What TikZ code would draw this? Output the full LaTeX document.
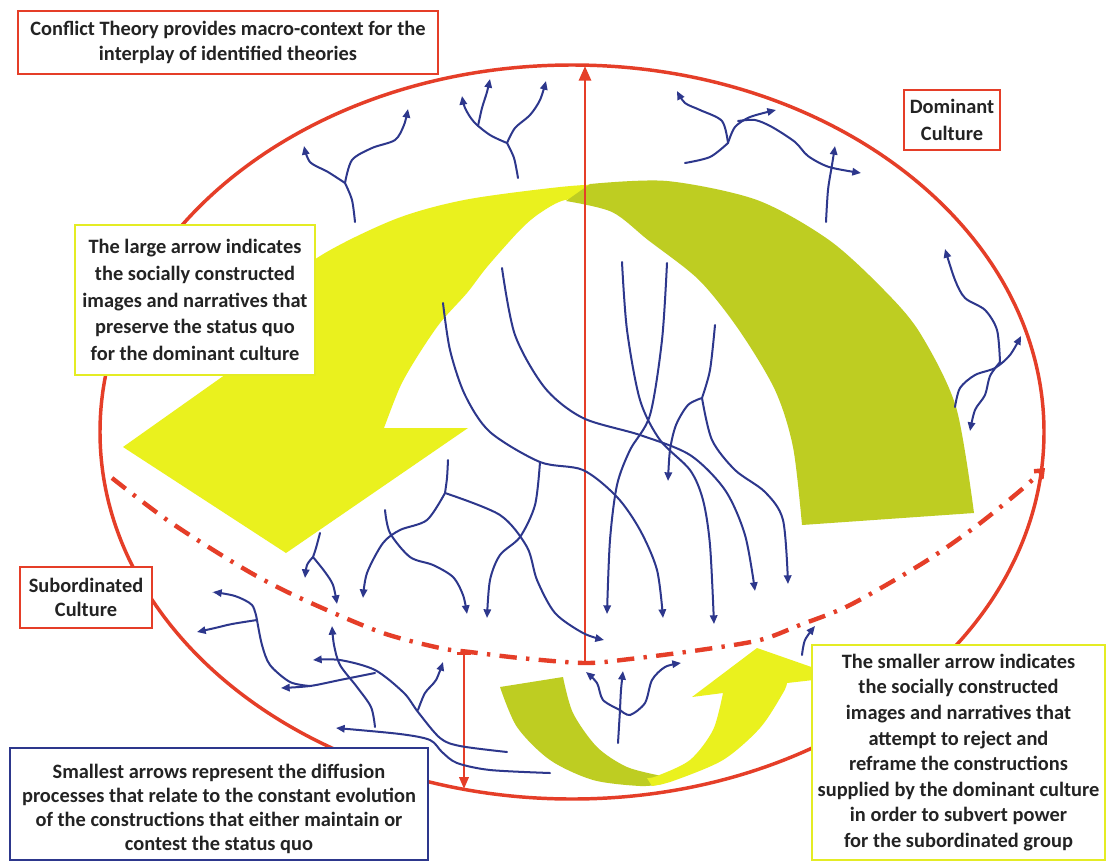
\documentclass[tikz,border=0pt]{standalone}
\usepackage{fontspec}
\setmainfont{Carlito}
\usetikzlibrary{arrows.meta}
\definecolor{redc}{RGB}{229,62,40}
\definecolor{bluc}{RGB}{45,55,140}
\definecolor{yelc}{RGB}{234,241,30}
\definecolor{olic}{RGB}{190,205,34}
\definecolor{yelb}{RGB}{228,236,36}
\definecolor{txtc}{RGB}{35,35,35}
\begin{document}
\begin{tikzpicture}[x=0.75pt,y=-0.75pt,
  blu/.style={draw=bluc, line width=1.5pt, line cap=round},
  bla/.style={blu, -{Triangle[length=6.5pt,width=5.5pt]}},
  tbox/.style={draw, fill=white, line width=1.6pt, align=center, inner sep=0pt, text=txtc},
  redline/.style={draw=redc, line width=2.2pt}
]
\useasboundingbox (0,0) rectangle (1107,861);
\fill[white] (0,0) rectangle (1107,861);

% ellipse
\draw[redc, line width=2.6pt] (572,432) ellipse [x radius=354pt, y radius=275.25pt];

% big arrow (yellow part)
\fill[yelc] (384,428) -- (468,428) -- (286,553) -- (123,447)
  -- plot[smooth] coordinates {(229,372) (262,312) (314,260) (393,220) (464,200) (560,187) (620,183)}
  -- plot[smooth] coordinates {(600,200) (565,200) (540,213) (520,230) (487,267) (467,293) (440,323) (417,357) (400,387) (384,428)}
  -- cycle;
% big arrow (olive part)
\fill[olic] plot[smooth] coordinates {(590,184) (667,181) (757,200) (829,240) (884,290) (920,333) (956,407) (974,513)}
  -- (802,525)
  -- plot[smooth] coordinates {(802,525) (793,447) (775,390) (739,330) (699,280) (648,240) (612,212) (566,201)}
  -- cycle;

% small arrow
\fill[olic] plot[smooth] coordinates {(500,687) (517,727) (550,760) (593,780) (640,786) (662,784)}
  -- plot[smooth] coordinates {(662,776) (627,767) (597,747) (573,713) (563,677)} -- cycle;
\fill[yelc] plot[smooth] coordinates {(652,786) (673,781) (723,760) (760,728) (783,693) (787,683)}
  -- (840,677) -- (757,648) -- (692,697) -- (723,693)
  -- plot[smooth] coordinates {(723,693) (713,730) (690,760) (657,776) (647,778)} -- cycle;

% dash-dot boundary
\draw[redc, line width=3.3pt, dash pattern=on 13pt off 7pt on 2.5pt off 7pt, -{Straight Barb[length=5pt,width=8pt]}]
  plot[smooth] coordinates {(112,478) (170,522) (246,570) (300,598) (380,632) (440,648) (470,652) (520,658) (585,663) (630,659) (700,650) (760,640) (800,625) (850,605) (923,563) (975,527) (1021,490) (1045,468)};

% red arrows
\coordinate (vb) at (585,663);
\coordinate (vt) at (585,66);
\draw[redline, -{Triangle[length=11pt,width=9pt]}] (vb) -- (vt);
\coordinate (db) at (464,652);
\coordinate (de) at (464,789);
\draw[redline, line width=2pt, {Bar[width=10pt]}-{Triangle[length=9pt,width=7pt]}] (db) -- (de);

% ---- blue diffusion arrows ----
% top-left group
\draw[blu] plot[smooth] coordinates {(355,222) (352,200) (345,183)};
\draw[bla] plot[smooth] coordinates {(345,183) (328,172) (310,162) (304,146)};
\draw[bla] plot[smooth] coordinates {(345,183) (352,160) (372,148) (395,140) (404,125) (408,109)};
\draw[blu] plot[smooth] coordinates {(518,178) (514,158) (507,143)};
\draw[bla] plot[smooth] coordinates {(507,143) (490,135) (474,122) (465,108) (462,96)};
\draw[bla] plot[smooth] coordinates {(478,126) (482,108) (487,92) (490,79)};
\draw[bla] plot[smooth] coordinates {(507,143) (515,128) (530,115) (540,100) (546,81)};
% top-right group
\draw[blu] plot[smooth] coordinates {(685,163) (710,157) (728,143)};
\draw[bla] plot[smooth] coordinates {(728,143) (722,121) (700,110) (685,103) (677,91)};
\draw[bla] plot[smooth] coordinates {(728,143) (735,127) (750,117) (776,110)};
\draw[bla] plot[smooth] coordinates {(738,121) (755,120) (772,127) (795,142) (808,156) (829,167) (861,173)};
\draw[bla] plot[smooth] coordinates {(826,222) (828,190) (832,165) (835,146)};
% right group
\draw[bla] plot[smooth] coordinates {(955,407) (960,388) (975,375) (995,368) (1010,355) (1021,336)};
\draw[bla] plot[smooth] coordinates {(1000,362) (997,330) (985,310) (965,298) (955,280) (945,249)};
\draw[bla] plot[smooth] coordinates {(1000,362) (990,376) (985,395) (975,410) (970,431)};
% central tangle
\draw[bla] plot[smooth] coordinates {(443,303) (450,350) (465,395) (490,432) (540,462) (583,470) (617,497) (640,530) (657,570) (663,618)};
\draw[bla] plot[smooth] coordinates {(540,462) (535,505) (520,537) (500,555) (490,580) (487,618)};
\draw[bla] plot[smooth] coordinates {(502,268) (515,335) (545,388) (583,418) (640,435) (690,455) (725,490) (745,535) (755,591)};
\draw[bla] plot[smooth] coordinates {(622,262) (627,330) (640,400) (660,440) (690,470) (703,500) (710,545) (714,624)};
\draw[bla] plot[smooth] coordinates {(667,263) (662,340) (650,415) (630,450) (617,485) (610,540) (607,614)};
\draw[blu] plot[smooth] coordinates {(715,325) (710,370) (702,398)};
\draw[bla] plot[smooth] coordinates {(702,398) (688,405) (676,425) (670,450) (668,481)};
\draw[bla] plot[smooth] coordinates {(702,398) (712,440) (735,470) (765,492) (783,520) (788,584)};
% left-centre
\draw[blu] plot[smooth] coordinates {(448,460) (447,478) (445,493)};
\draw[bla] plot[smooth] coordinates {(445,493) (427,520) (400,530) (383,543) (367,573) (363,598)};
\draw[bla] plot[smooth] coordinates {(445,493) (500,515) (527,547) (537,580) (555,613) (583,633) (604,640)};
\draw[bla] plot[smooth] coordinates {(385,510) (390,533) (410,557) (433,565) (453,577) (463,595) (467,614)};
\draw[blu] plot[smooth] coordinates {(320,533) (316,548) (313,557)};
\draw[bla] plot[smooth] coordinates {(313,557) (307,565) (305,578)};
\draw[bla] plot[smooth] coordinates {(313,557) (325,572) (333,585) (337,604)};
% lower-left group
\draw[bla] plot[smooth] coordinates {(257,620) (252,605) (235,596) (213,592)};
\draw[bla] plot[smooth] coordinates {(257,620) (232,624) (215,628) (197,632)};
\draw[blu] plot[smooth] coordinates {(257,620) (262,645) (270,665) (290,682) (310,686)};
\draw[bla] plot[smooth] coordinates {(375,673) (340,680) (310,686) (281,688)};
\draw[bla] plot[smooth] coordinates {(507,752) (460,746) (440,738) (418,712) (404,693) (375,670) (340,660) (313,660)};
\draw[bla] plot[smooth] coordinates {(375,727) (371,707) (357,687) (340,665) (334,645) (332,626)};
\draw[bla] plot[smooth] coordinates {(550,773) (490,770) (457,763) (442,752) (430,740) (400,734) (336,728)};
\draw[bla] plot[smooth] coordinates {(418,710) (425,693) (436,680) (443,662)};
% bottom-centre group
\draw[blu] plot[smooth] coordinates {(618,743) (620,710)};
\draw[bla] plot[smooth] coordinates {(620,710) (603,700) (597,683) (586,672)};
\draw[bla] plot[smooth] coordinates {(620,710) (621,690) (623,671)};
\draw[bla] plot[smooth] coordinates {(620,710) (630,715) (645,703) (652,680) (665,667) (681,663)};
\draw[bla] plot[smooth] coordinates {(802,655) (805,640) (815,626)};

% ---- text boxes ----
\node[tbox, draw=redc, minimum width=315pt, minimum height=47.25pt,
  font=\bfseries\fontsize{15.3}{18.75}\selectfont] (conflict) at (228,42.5)
  {Conflict Theory provides macro-context for the\\interplay of identified theories};
\node[tbox, draw=redc, minimum width=72pt, minimum height=45pt,
  font=\bfseries\fontsize{15.3}{20}\selectfont] (dominant) at (952,120)
  {Dominant\\Culture};
\node[tbox, draw=redc, minimum width=99pt, minimum height=45.75pt,
  font=\bfseries\fontsize{15.3}{18}\selectfont] (subord) at (86,597.5)
  {Subordinated\\Culture};
\node[tbox, draw=yelb, line width=2.2pt, minimum width=180pt, minimum height=112.5pt,
  font=\bfseries\fontsize{15.3}{20}\selectfont] (large) at (195,300)
  {The large arrow indicates\\the socially constructed\\images and narratives that\\preserve the status quo\\for the dominant culture};
\node[tbox, draw=bluc, minimum width=313.5pt, minimum height=84pt] (smallestbox) at (219,804) {};
\node[align=center, inner sep=0pt, text=txtc,
  font=\bfseries\fontsize{15.3}{18}\selectfont] (smallest) at (219,809)
  {Smallest arrows represent the diffusion\\processes that relate to the constant evolution\\of the constructions that either maintain or\\contest the status quo};
\node[tbox, draw=yelb, line width=2.2pt, minimum width=219.75pt, minimum height=161.25pt,
  font=\bfseries\fontsize{15.3}{19.2}\selectfont] (smaller) at (958.5,752.5)
  {The smaller arrow indicates\\the socially constructed\\images and narratives that\\attempt to reject and\\reframe the constructions\\supplied by the dominant culture\\in order to subvert power\\for the subordinated group};
\end{tikzpicture}
\end{document}
